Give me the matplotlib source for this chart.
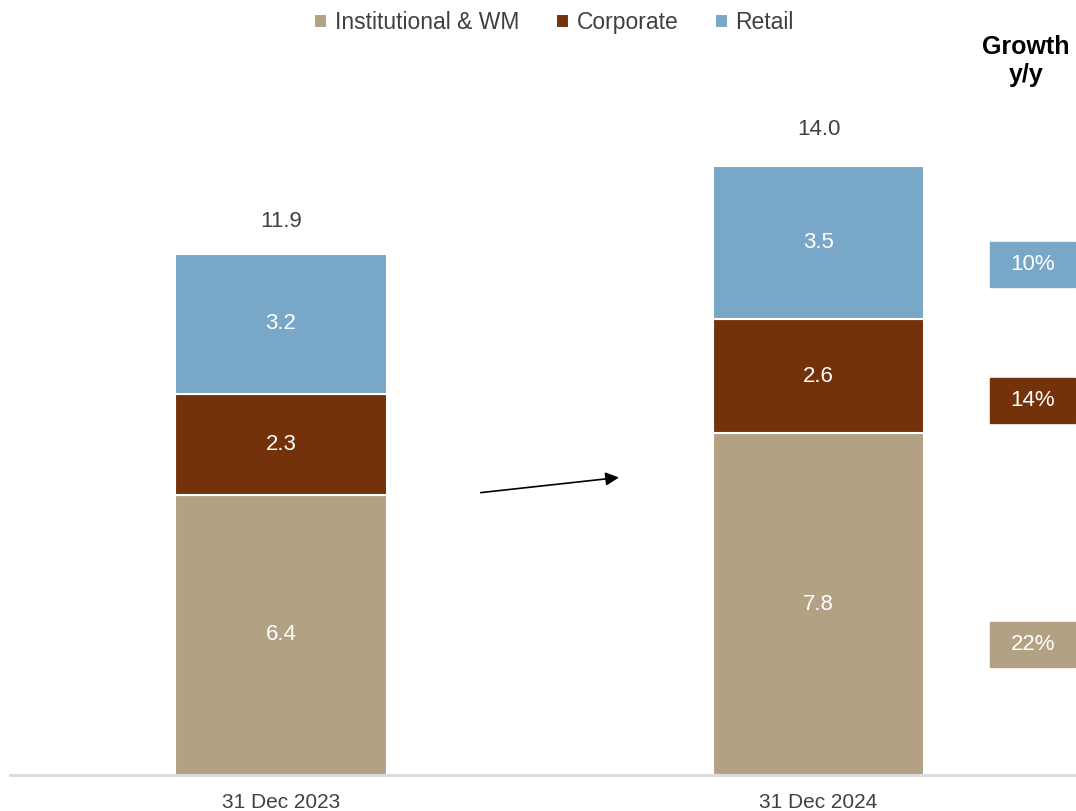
import matplotlib.pyplot as plt
from matplotlib.patches import Rectangle

plt.rcParams['font.family'] = ['Liberation Sans', 'DejaVu Sans']

periods = ['31 Dec 2023', '31 Dec 2024']
segments = ['Institutional & WM', 'Corporate', 'Retail']
inst = [6.4, 7.8]
corp = [2.3, 2.6]
retail = [3.2, 3.5]
totals = [11.9, 14.0]
growth = ['22%', '14%', '10%']

colors = ['#B2A283', '#74320A', '#78A7C7']
grey = '#404040'

fig = plt.figure(figsize=(10.76, 8.11), dpi=100)
ax = fig.add_axes([10 / 1076, 36 / 811, 1066 / 1076, 715 / 811])

x = [0, 1]
w = 0.394
bottom = [0, 0]
for name, vals, c in zip(segments, [inst, corp, retail], colors):
    ax.bar(x, vals, w, bottom=bottom, color=c, edgecolor='white',
           linewidth=1.5, label=name)
    for xi, b, v in zip(x, bottom, vals):
        ax.text(xi, b + v / 2, f'{v:.1f}', ha='center', va='center',
                color='white', fontsize=16)
    bottom = [b + v for b, v in zip(bottom, vals)]

for xi, t in zip(x, totals):
    ax.text(xi, t + 0.5, f'{t:.1f}', ha='center', va='bottom',
            color=grey, fontsize=16)

# growth boxes on the right
gx = 1.399
gy = [2.97, 8.56, 11.65]
bw, bh = 85 / 537.5, 45 / 43.8
for g, yc, c in zip(growth, gy, colors):
    ax.add_patch(Rectangle((gx - bw / 2, yc - bh / 2), bw, bh, color=c,
                           clip_on=False))
    ax.text(gx, yc, g, ha='center', va='center', color='white', fontsize=16)
fig.text(1026 / 1076, 1 - 61 / 811, 'Growth\ny/y', ha='center', va='center',
         fontsize=18, fontweight='bold', color='black', linespacing=1.2)

ax.annotate('', xy=(0.634, 6.80), xytext=(0.3665, 6.44),
            arrowprops=dict(arrowstyle='-|>', color='black', lw=1.2,
                            mutation_scale=20))

ax.set_xlim(-0.504, 1.479)
ax.set_ylim(0, 715 / 43.8)
ax.set_xticks(x)
ax.set_xticklabels(periods, fontsize=15, color=grey)
ax.tick_params(axis='x', length=0, pad=13)
ax.set_yticks([])
for s in ['top', 'right', 'left']:
    ax.spines[s].set_visible(False)
ax.spines['bottom'].set_color('#D9D9D9')
ax.spines['bottom'].set_linewidth(2)

fig.legend(loc='upper center', bbox_to_anchor=(0.515, 1.012), ncol=3,
           frameon=False, fontsize=16.5, handlelength=0.55, handleheight=0.55,
           handletextpad=0.35, columnspacing=1.6, labelcolor=grey)

fig.savefig('out.png', dpi=100)
